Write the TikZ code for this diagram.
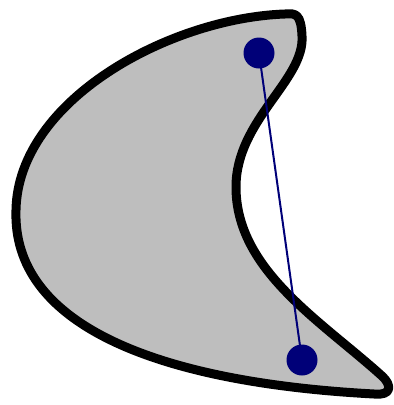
\documentclass[tikz,border=0pt]{standalone}
\definecolor{shapegray}{RGB}{190,190,190}
\definecolor{dotnavy}{RGB}{0,0,120}
\begin{document}
\begin{tikzpicture}[x=1pt,y=-1pt,
  outline/.style={draw=black,fill=shapegray,line width=9pt,line join=round},
  dotnode/.style={circle,fill=dotnavy,minimum size=31pt,inner sep=0pt},
  chord/.style={draw=dotnavy,line width=2pt}]
\useasboundingbox (0,0) rectangle (394,405);
\path[outline] (285,14) .. controls (170,18) and (18,100) .. (16,210)
  .. controls (12,322) and (150,382) .. (374,394)
  .. controls (392,396) and (392,385) .. (382,376)
  .. controls (320,320) and (236,270) .. (236,187)
  .. controls (236,120) and (305,80) .. (302,36)
  .. controls (301,14) and (296,13) .. (285,14) -- cycle;
\coordinate (pa) at (259,53);
\coordinate (qa) at (302,360);
\draw[chord] (pa) -- (qa);
\node[dotnode] (p) at (pa) {};
\node[dotnode] (q) at (qa) {};
\end{tikzpicture}
\end{document}
